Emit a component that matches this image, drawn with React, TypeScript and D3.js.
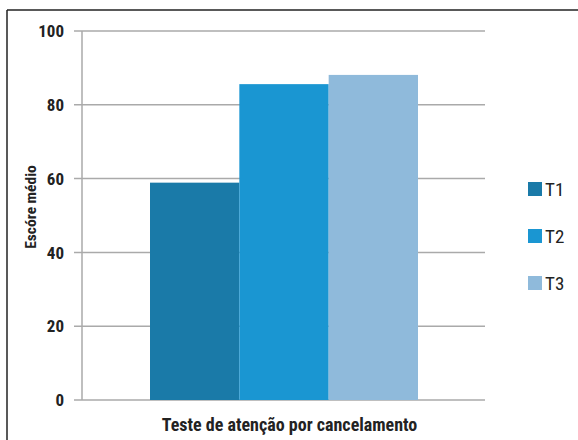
import React from "react";
import * as d3 from "d3";

const categories = ["T1", "T2", "T3"];
const values = [58.9, 85.6, 88.1];
const colors = ["#1a7aa8", "#1a96d2", "#8fbadb"];
const yTicks = [0, 20, 40, 60, 80, 100];
const xTitle = "Teste de atenção por cancelamento";
const yTitle = "Escóre médio";

const W = 578;
const H = 440;

export default function App() {
  const y = d3.scaleLinear().domain([0, 100]).range([400, 31]);
  const x = d3.scaleBand<string>().domain(categories).range([150, 418]).paddingInner(0).paddingOuter(0);
  const font = "'Roboto Condensed', 'Liberation Sans Narrow', 'Liberation Sans', Arial, sans-serif";
  return (
    <svg width={W} height={H} style={{ position: "absolute", left: 0, top: 0, background: "#fff" }}>
      <rect x={0} y={0} width={W} height={H} fill="#fff" />
      {/* frame */}
      <line x1={7} y1={10} x2={W} y2={10} stroke="#222" strokeWidth={1.5} />
      <line x1={7} y1={10} x2={7} y2={H} stroke="#222" strokeWidth={1.5} />
      {/* gridlines */}
      {yTicks.map((t) => (
        <line key={t} x1={74} x2={485} y1={y(t)} y2={y(t)} stroke="#aaaaaa" strokeWidth={1.5} />
      ))}
      <line x1={82} x2={82} y1={y(100)} y2={y(0)} stroke="#aaaaaa" strokeWidth={1.5} />
      {/* bars */}
      {categories.map((c, i) => (
        <rect key={c} x={x(c)} y={y(values[i])} width={x.bandwidth()} height={y(0) - y(values[i])} fill={colors[i]} />
      ))}
      {/* tick labels */}
      {yTicks.map((t) => (
        <text key={t} x={64} y={y(t)} dy="0.36em" textAnchor="end" fontFamily={font} fontWeight="bold" fontSize={17} fill="#222">
          {t}
        </text>
      ))}
      <text
        transform={`translate(31,207) rotate(-90)`}
        textAnchor="middle"
        dy="0.35em"
        fontFamily={font}
        fontWeight="bold"
        fontSize={15.5}
        fill="#222"
      >
        {yTitle}
      </text>
      <text x={289.5} y={431} textAnchor="middle" fontFamily={font} fontWeight="bold" fontSize={18} fill="#222">
        {xTitle}
      </text>
      {/* legend */}
      {categories.map((c, i) => (
        <g key={c} transform={`translate(528,${182 + i * 47})`}>
          <rect x={0} y={0} width={14} height={14} fill={colors[i]} />
          <text x={17} y={7} dy="0.38em" fontFamily={font} fontSize={19} fill="#222">
            {c}
          </text>
        </g>
      ))}
    </svg>
  );
}
